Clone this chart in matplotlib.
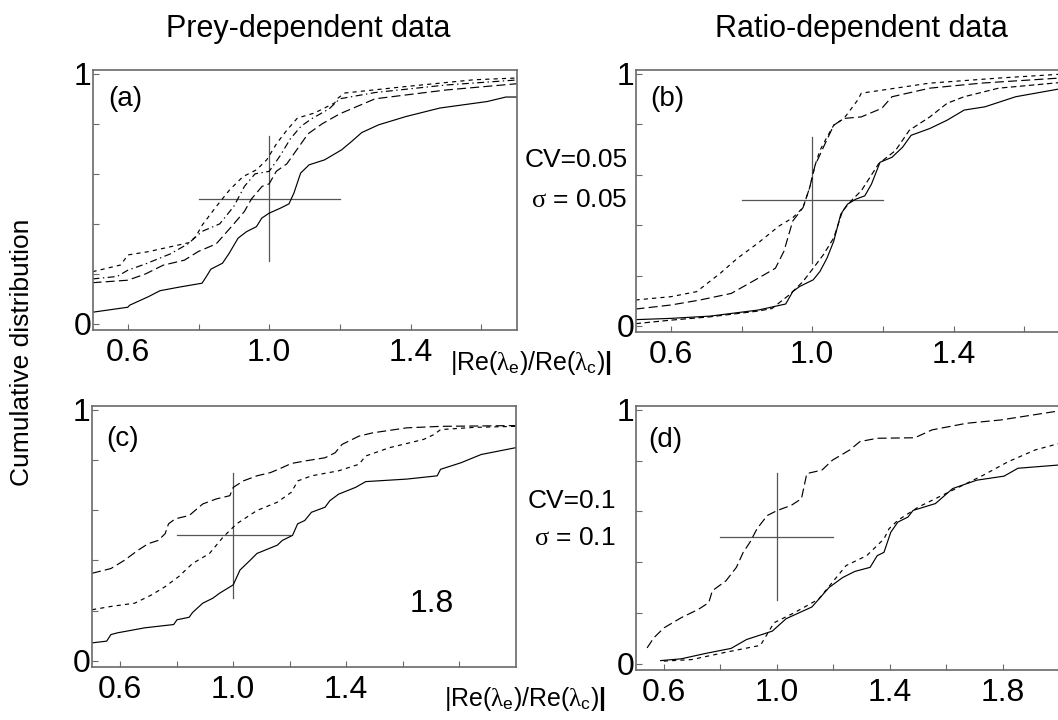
import matplotlib
matplotlib.use("Agg")
import matplotlib.pyplot as plt
from matplotlib.ticker import FixedLocator, FixedFormatter

plt.rcParams['font.family'] = ['Liberation Sans', 'DejaVu Sans']
plt.rcParams['mathtext.fontset'] = 'custom'
plt.rcParams['mathtext.rm'] = 'Liberation Sans'
plt.rcParams['mathtext.it'] = 'Liberation Serif'
plt.rcParams['mathtext.bf'] = 'Liberation Sans:bold'
plt.rcParams['lines.scale_dashes'] = False

W, H = 1058, 720

# ---------------- data ----------------
# (a) prey-dependent, CV = 0.05
a_solid_x = [0.5, 0.6, 0.605, 0.658, 0.691, 0.744, 0.81, 0.822, 0.835, 0.868, 0.887, 0.912, 0.936, 0.964, 0.979,
             1.0, 1.032, 1.056, 1.07, 1.089, 1.113, 1.157, 1.205, 1.233, 1.262, 1.31, 1.387, 1.483, 1.617, 1.67, 1.7]
a_solid_y = [0.047, 0.067, 0.075, 0.109, 0.133, 0.147, 0.163, 0.189, 0.219, 0.243, 0.283, 0.343, 0.369, 0.389, 0.423,
             0.443, 0.463, 0.48, 0.523, 0.603, 0.636, 0.656, 0.696, 0.729, 0.765, 0.796, 0.829, 0.863, 0.889, 0.907, 0.907]
a_short_x = [0.5, 0.58, 0.6, 0.658, 0.773, 0.792, 0.811, 0.85, 0.888, 0.926, 0.964, 0.993, 1.022, 1.051, 1.08,
             1.128, 1.185, 1.195, 1.214, 1.387, 1.58, 1.7]
a_short_y = [0.209, 0.236, 0.276, 0.289, 0.325, 0.349, 0.396, 0.469, 0.536, 0.589, 0.616, 0.656, 0.723, 0.776, 0.823,
             0.843, 0.883, 0.903, 0.923, 0.949, 0.976, 0.983]
a_dashdot_x = [0.5, 0.57, 0.6, 0.65, 0.72, 0.77, 0.81, 0.86, 0.9, 0.93, 0.96, 1.0, 1.03, 1.06, 1.09, 1.12, 1.17,
               1.2, 1.3, 1.5, 1.7]
a_dashdot_y = [0.18, 0.19, 0.215, 0.24, 0.28, 0.32, 0.37, 0.40, 0.47, 0.55, 0.60, 0.61, 0.67, 0.74, 0.79, 0.82, 0.86,
               0.9, 0.925, 0.955, 0.975]
a_long_x = [0.5, 0.6, 0.65, 0.7, 0.76, 0.8, 0.85, 0.9, 0.93, 0.95, 0.98, 1.0, 1.02, 1.05, 1.08, 1.11, 1.15, 1.2,
            1.3, 1.5, 1.7]
a_long_y = [0.165, 0.175, 0.2, 0.235, 0.255, 0.29, 0.32, 0.4, 0.45, 0.5, 0.55, 0.56, 0.61, 0.64, 0.7, 0.76, 0.8, 0.84,
            0.9, 0.935, 0.96]

# (b) ratio-dependent, CV = 0.05
b_solid_x = [0.5, 0.6, 0.711, 0.847, 0.925, 0.945, 0.964, 1.003, 1.022, 1.042, 1.061, 1.081, 1.1, 1.124, 1.149,
             1.168, 1.192, 1.226, 1.256, 1.28, 1.333, 1.382, 1.43, 1.489, 1.576, 1.7]
b_solid_y = [0.025, 0.03, 0.039, 0.063, 0.087, 0.136, 0.156, 0.183, 0.216, 0.269, 0.336, 0.443, 0.483, 0.503, 0.516,
             0.563, 0.649, 0.669, 0.709, 0.756, 0.783, 0.816, 0.856, 0.869, 0.909, 0.94]
b_dash_x = [0.5, 0.6, 0.71, 0.847, 0.886, 0.935, 0.974, 1.003, 1.032, 1.061, 1.086, 1.115, 1.139, 1.188, 1.236,
            1.275, 1.333, 1.382, 1.43, 1.528, 1.7]
b_dash_y = [0.009, 0.023, 0.036, 0.059, 0.069, 0.123, 0.176, 0.229, 0.283, 0.349, 0.456, 0.503, 0.536, 0.643, 0.696,
            0.776, 0.829, 0.883, 0.909, 0.943, 0.965]
b_short_x = [0.5, 0.6, 0.673, 0.74, 0.789, 0.847, 0.906, 0.945, 0.974, 0.993, 1.008, 1.022, 1.042, 1.061, 1.09,
             1.129, 1.139, 1.236, 1.333, 1.528, 1.7]
b_short_y = [0.103, 0.116, 0.136, 0.209, 0.269, 0.329, 0.396, 0.429, 0.469, 0.549, 0.636, 0.696, 0.749, 0.796, 0.823,
             0.896, 0.923, 0.943, 0.963, 0.983, 0.998]
b_long_x = [0.5, 0.6, 0.683, 0.771, 0.847, 0.896, 0.92, 0.945, 0.974, 0.993, 1.008, 1.032, 1.061, 1.09, 1.139,
            1.197, 1.226, 1.333, 1.479, 1.7]
b_long_y = [0.067, 0.083, 0.103, 0.129, 0.189, 0.229, 0.296, 0.416, 0.469, 0.549, 0.636, 0.709, 0.796, 0.823, 0.829,
            0.863, 0.909, 0.943, 0.963, 0.983]

# (c) prey-dependent, CV = 0.1
c_solid_x = [0.5, 0.552, 0.567, 0.59, 0.687, 0.789, 0.801, 0.844, 0.856, 0.892, 0.928, 0.952, 1.0, 1.024, 1.06,
             1.084, 1.156, 1.174, 1.21, 1.228, 1.253, 1.277, 1.325, 1.342, 1.373, 1.433, 1.469, 1.614, 1.722,
             1.734, 1.806, 1.878, 2.0]
c_solid_y = [0.072, 0.079, 0.105, 0.112, 0.132, 0.145, 0.164, 0.174, 0.193, 0.23, 0.25, 0.27, 0.303, 0.362, 0.401,
             0.428, 0.461, 0.48, 0.5, 0.546, 0.559, 0.592, 0.612, 0.638, 0.664, 0.691, 0.714, 0.724, 0.737,
             0.763, 0.789, 0.822, 0.849]
c_long_x = [0.5, 0.567, 0.615, 0.663, 0.699, 0.735, 0.759, 0.771, 0.795, 0.844, 0.892, 0.94, 0.988, 1.0, 1.036,
            1.084, 1.132, 1.168, 1.205, 1.253, 1.325, 1.361, 1.385, 1.445, 1.493, 1.614, 1.734, 2.0]
c_long_y = [0.349, 0.368, 0.401, 0.441, 0.467, 0.48, 0.507, 0.546, 0.566, 0.579, 0.625, 0.645, 0.658, 0.691, 0.717,
            0.737, 0.75, 0.767, 0.786, 0.796, 0.809, 0.829, 0.862, 0.895, 0.908, 0.928, 0.934, 0.937]
c_short_x = [0.5, 0.567, 0.651, 0.711, 0.759, 0.807, 0.856, 0.916, 0.964, 1.012, 1.084, 1.156, 1.205, 1.229, 1.277,
             1.373, 1.445, 1.469, 1.553, 1.674, 1.71, 1.734, 1.854, 2.0]
c_short_y = [0.204, 0.217, 0.23, 0.263, 0.296, 0.336, 0.388, 0.428, 0.493, 0.546, 0.599, 0.632, 0.671, 0.717, 0.737,
             0.757, 0.783, 0.816, 0.849, 0.882, 0.901, 0.921, 0.93, 0.934]

# (d) ratio-dependent, CV = 0.1
d_solid_x = [0.589, 0.662, 0.747, 0.838, 0.893, 0.984, 1.033, 1.124, 1.185, 1.233, 1.276, 1.33, 1.355, 1.379, 1.403,
             1.428, 1.464, 1.482, 1.561, 1.622, 1.707, 1.804, 1.853, 2.0]
d_solid_y = [0.013, 0.02, 0.041, 0.061, 0.096, 0.129, 0.178, 0.224, 0.301, 0.34, 0.364, 0.38, 0.426, 0.439, 0.518,
             0.558, 0.578, 0.604, 0.631, 0.69, 0.723, 0.739, 0.77, 0.783]
d_short_x = [0.6, 0.699, 0.82, 0.942, 0.99, 1.063, 1.148, 1.245, 1.318, 1.355, 1.379, 1.397, 1.428, 1.5, 1.61, 1.731,
             1.817, 1.914, 2.0]
d_short_y = [0.011, 0.017, 0.046, 0.073, 0.162, 0.202, 0.255, 0.387, 0.426, 0.466, 0.492, 0.532, 0.565, 0.617,
             0.677, 0.743, 0.795, 0.842, 0.868]
d_long_x = [0.541, 0.565, 0.601, 0.662, 0.723, 0.759, 0.772, 0.82, 0.857, 0.881, 0.905, 0.93, 0.966, 1.002, 1.051,
            1.087, 1.106, 1.16, 1.197, 1.258, 1.294, 1.355, 1.488, 1.549, 1.671, 1.792, 2.0]
d_long_y = [0.063, 0.103, 0.142, 0.182, 0.215, 0.241, 0.288, 0.327, 0.38, 0.439, 0.479, 0.532, 0.584, 0.604, 0.624,
            0.65, 0.749, 0.763, 0.802, 0.842, 0.875, 0.888, 0.89, 0.921, 0.947, 0.96, 0.996]

# cross marker (centre 1.0, 0.5)
cross_h_x = [0.8, 1.2]
cross_h_y = [0.5, 0.5]
cross_v_x = [1.0, 1.0]
cross_v_y = [0.25, 0.75]

col_titles = ["Prey-dependent data", "Ratio-dependent data"]
panel_labels = ["(a)", "(b)", "(c)", "(d)"]
y_ticks = [0, 1]
y_tick_labels = ["0", "1"]
y_minor = [0.2, 0.4, 0.6, 0.8]

# ---------------- styles ----------------
SHORT = (0, (3, 3))
LONG = (0, (6.5, 3))
DASHDOT = (0, (5, 2.5, 1, 2.5))
MED = (0, (4, 2.5))
LW = 0.85
SPINE_C = '#6a6a6a'

fig = plt.figure(figsize=(W / 100, H / 100), dpi=100)


def make_ax(l, r, t, b, xlim, xmaj, xmin, xlabels):
    ax = fig.add_axes([l / W, 1 - b / H, (r - l) / W, (b - t) / H])
    ax.set_xlim(*xlim)
    ax.set_ylim(-0.024, 1.015)
    ax.xaxis.set_major_locator(FixedLocator(xmaj))
    ax.xaxis.set_major_formatter(FixedFormatter(xlabels))
    ax.xaxis.set_minor_locator(FixedLocator(xmin))
    ax.yaxis.set_major_locator(FixedLocator(y_ticks))
    ax.yaxis.set_major_formatter(FixedFormatter(y_tick_labels))
    ax.yaxis.set_minor_locator(FixedLocator(y_minor))
    ax.tick_params(which='both', direction='in', length=4, width=0.8, color=SPINE_C,
                   top=False, right=False)
    ax.tick_params(axis='x', which='major', labelsize=23, pad=6)
    ax.tick_params(axis='y', which='major', labelsize=23, pad=1)
    for s in ax.spines.values():
        s.set_color(SPINE_C)
        s.set_linewidth(1.2)
    ax.plot(cross_h_x, cross_h_y, color='#555555', lw=0.9)
    ax.plot(cross_v_x, cross_v_y, color='#555555', lw=0.9)
    return ax


ax_a = make_ax(92.5, 516.5, 70, 330, (0.5, 1.7), [0.6, 1.0, 1.4], [0.8, 1.2, 1.6], ["0.6", "1.0", "1.4"])
ax_b = make_ax(635.5, 1059.5, 70, 332, (0.5, 1.7), [0.6, 1.0, 1.4], [0.8, 1.2, 1.6], ["0.6", "1.0", "1.4"])
ax_c = make_ax(92, 515.7, 406, 667, (0.5, 2.0), [0.6, 1.0, 1.4], [0.8, 1.2, 1.6, 1.8], ["0.6", "1.0", "1.4"])
ax_d = make_ax(635.5, 1059.5, 406, 670, (0.5, 2.0), [0.6, 1.0, 1.4, 1.8], [0.8, 1.2, 1.6, 2.0],
               ["0.6", "1.0", "1.4", "1.8"])

k = dict(color='black', lw=LW)
ax_a.plot(a_solid_x, a_solid_y, ls='-', **k)
ax_a.plot(a_short_x, a_short_y, ls=SHORT, **k)
ax_a.plot(a_dashdot_x, a_dashdot_y, ls=DASHDOT, **k)
ax_a.plot(a_long_x, a_long_y, ls=LONG, **k)

ax_b.plot(b_solid_x, b_solid_y, ls='-', **k)
ax_b.plot(b_dash_x, b_dash_y, ls=MED, **k)
ax_b.plot(b_short_x, b_short_y, ls=SHORT, **k)
ax_b.plot(b_long_x, b_long_y, ls=LONG, **k)

ax_c.plot(c_solid_x, c_solid_y, ls='-', **k)
ax_c.plot(c_long_x, c_long_y, ls=LONG, **k)
ax_c.plot(c_short_x, c_short_y, ls=SHORT, **k)

ax_d.plot(d_solid_x, d_solid_y, ls='-', **k)
ax_d.plot(d_short_x, d_short_y, ls=SHORT, **k)
ax_d.plot(d_long_x, d_long_y, ls=LONG, **k)

# panel labels
for ax, lab, (fx, fy) in zip([ax_a, ax_b, ax_c, ax_d], panel_labels,
                             [(0.077, 0.888), (0.075, 0.889), (0.071, 0.872), (0.07, 0.873)]):
    ax.text(fx, fy, lab, transform=ax.transAxes, ha='center', va='center', fontsize=20)

# stray "1.8" label inside panel (c)
ax_c.text(1.704, 0.228, "1.8", ha='center', va='center', fontsize=23)


def ftext(x, y, s, **kw):
    fig.text(x / W, 1 - y / H, s, **kw)


ftext(308, 37, col_titles[0], ha='center', va='baseline', fontsize=22)
ftext(861, 37, col_titles[1], ha='center', va='baseline', fontsize=22)
ftext(22, 352, "Cumulative distribution", rotation=90, ha='center', va='center', fontsize=19)

xlab = r'|Re($\lambda_{\mathrm{e}}$)/Re($\lambda_{\mathrm{c}}$)$\mathbf{|}$'
ftext(450, 370, xlab, ha='left', va='baseline', fontsize=18)
ftext(444, 706, xlab, ha='left', va='baseline', fontsize=18)

ftext(628, 160, "CV=0.05", ha='right', va='center', fontsize=19)
ftext(628, 200, r"$\sigma$ = 0.05", ha='right', va='center', fontsize=19)
ftext(616, 501, "CV=0.1", ha='right', va='center', fontsize=19)
ftext(616, 538, r"$\sigma$ = 0.1", ha='right', va='center', fontsize=19)

fig.savefig("out.png", dpi=100)
